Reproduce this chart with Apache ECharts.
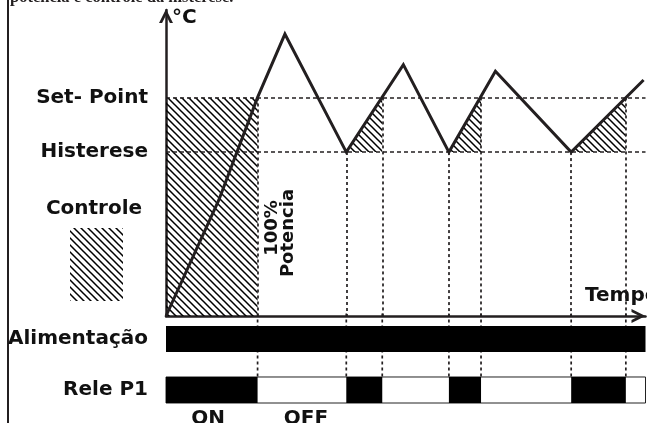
<!DOCTYPE html>
<html><head><meta charset="utf-8">
<script src="https://cdn.jsdelivr.net/npm/echarts@6/dist/echarts.min.js"></script>
<style>html,body{margin:0;padding:0;background:#fff;overflow:hidden}#c{width:647px;height:423px}</style>
</head><body><div id="c"></div>
<script>
// ---- data ----
const SET_POINT = 100;
const HISTERESE = 75;
const levelLabels = { 75: 'Histerese', 100: 'Set- Point' };
const temperatureCurve = [[0,0],[11,53],[19.1,100],[24.8,129],[37.6,75],[49.5,115],[59,75],[68.7,112],[84.5,75],[99.6,108]];
const releOn = [[0,19.1],[37.6,45.1],[59,65.7],[84.5,95.9]];
const guideLines = [[19.1,100],[37.6,75],[45.1,100],[59,75],[65.7,100],[84.5,75],[95.9,100]];
const alimentacao = [[0,100]];
const rowLabels = ['Alimentação','Rele P1'];

// ---- style ----
const INK = '#231f20';
const FONT = 'DejaVu Sans';
const FS = 20;
function makeHatch(){
  const s = 7, c = document.createElement('canvas');
  c.width = s; c.height = s;
  const g = c.getContext('2d');
  g.strokeStyle = '#000'; g.lineWidth = 1.5; g.beginPath();
  g.moveTo(-1,-1); g.lineTo(s+1,s+1);
  g.moveTo(s-1,-1); g.lineTo(s+1,1);
  g.moveTo(-1,s-1); g.lineTo(1,s+1);
  g.stroke();
  return c;
}
const hatch = { image: makeHatch(), repeat: 'repeat' };
const chevron = 'path://M0,10 L5,0 L10,10 L7.8,10 L5,4.4 L2.2,10 Z';
const labelStyle = { color: '#111', fontFamily: FONT, fontWeight: 'bold', fontSize: FS };

function txt(text, x, y, align, extra, size){
  return Object.assign({ type:'text', x:x, y:y, silent:true,
    style: { text:text, fill:'#111', fontFamily:FONT, fontWeight:'bold', fontSize:size || FS,
      textAlign:align, align:align, textVerticalAlign:'middle', verticalAlign:'middle' } }, extra || {});
}

const chart = echarts.init(document.getElementById('c'), null, { renderer: 'canvas' });
chart.setOption({
  animation: false,
  backgroundColor: '#fff',
  grid: [
    { left: 166, right: 1.5, top: 10, bottom: 107, outerBoundsMode: 'none' },
    { left: 166, right: 1.5, top: 313.5, bottom: 7.5, outerBoundsMode: 'none' }
  ],
  xAxis: [
    { gridIndex: 0, type: 'value', min: 0, max: 100,
      axisLine: { show: true, lineStyle: { color: INK, width: 2.5 }, symbol: ['none', chevron], symbolSize: [16, 14], symbolOffset: [0, -7] },
      axisTick: { show: false }, axisLabel: { show: false }, splitLine: { show: false } },
    { gridIndex: 1, type: 'value', min: 0, max: 100, show: false }
  ],
  yAxis: [
    { gridIndex: 0, type: 'value', min: 0, max: 140, interval: 25,
      axisLine: { show: true, lineStyle: { color: INK, width: 2.5 }, symbol: ['none', chevron], symbolSize: [16, 14], symbolOffset: [0, -6] },
      axisTick: { show: false }, splitLine: { show: false },
      axisLabel: Object.assign({ margin: 18, formatter: v => levelLabels[v] || '' }, labelStyle) },
    { gridIndex: 1, type: 'category', data: rowLabels, inverse: true,
      axisLine: { show: false }, axisTick: { show: false }, splitLine: { show: false },
      axisLabel: Object.assign({ margin: 18 }, labelStyle) }
  ],
  series: [
    { type: 'custom', name: 'controle', xAxisIndex: 0, yAxisIndex: 0, z: 1, silent: true,
      data: releOn.map((r, i) => [r[0], r[1], i]),
      renderItem: function (params, api) {
        const t0 = api.value(0), t1 = api.value(1), i = api.value(2);
        const pts = i === 0
          ? [[t0, 0], [t1, 0], [t1, SET_POINT], [t0, SET_POINT]]
          : [[t0, HISTERESE], [t1, HISTERESE], [t1, SET_POINT]];
        return { type: 'polygon', shape: { points: pts.map(p => api.coord(p)) }, style: { fill: hatch } };
      } },
    { type: 'line', name: 'temperatura', xAxisIndex: 0, yAxisIndex: 0, z: 5,
      data: temperatureCurve, showSymbol: false, symbol: 'none',
      lineStyle: { color: INK, width: 3, join: 'miter' },
      markLine: { silent: true, symbol: 'none', label: { show: false },
        lineStyle: { color: INK, width: 1.5, type: [4, 3] },
        data: [{ yAxis: SET_POINT }, { yAxis: HISTERESE }].concat(
          guideLines.map(g => [{ coord: [g[0], g[1]], lineStyle: { type: [3, 3], width: 1.7, color: INK } }, { coord: [g[0], 0] }])) } },
    { type: 'custom', name: 'guias', xAxisIndex: 1, yAxisIndex: 1, z: 2, silent: true,
      data: guideLines.map(g => [g[0]]),
      renderItem: function (params, api) {
        const x = api.coord([api.value(0), 1])[0];
        const band = api.size([0, 1])[1];
        const yb = api.coord([0, 1])[1] - band * 0.255;
        return { type: 'line', shape: { x1: x, y1: params.coordSys.y, x2: x, y2: yb },
          style: { stroke: INK, lineWidth: 1.7, lineDash: [3, 3] } };
      } },
    { type: 'custom', name: 'Alimentação', xAxisIndex: 1, yAxisIndex: 1, z: 3, silent: true,
      data: alimentacao.map(s => [s[0], s[1], 0]),
      renderItem: function (params, api) {
        const a = api.coord([api.value(0), api.value(2)]), b = api.coord([api.value(1), api.value(2)]);
        const h = api.size([0, 1])[1] * 0.51;
        return { type: 'rect', shape: { x: a[0], y: a[1] - h / 2, width: b[0] - a[0], height: h }, style: { fill: '#000' } };
      } },
    { type: 'custom', name: 'Rele frame', xAxisIndex: 1, yAxisIndex: 1, z: 3, silent: true,
      data: [[0, 100, 1]],
      renderItem: function (params, api) {
        const a = api.coord([api.value(0), api.value(2)]), b = api.coord([api.value(1), api.value(2)]);
        const h = api.size([0, 1])[1] * 0.51;
        return { type: 'rect', shape: { x: a[0], y: a[1] - h / 2, width: b[0] - a[0], height: h }, style: { fill: '#fff', stroke: '#222', lineWidth: 1 } };
      } },
    { type: 'custom', name: 'Rele P1', xAxisIndex: 1, yAxisIndex: 1, z: 4, silent: true,
      data: releOn.map(s => [s[0], s[1], 1]),
      renderItem: function (params, api) {
        const a = api.coord([api.value(0), api.value(2)]), b = api.coord([api.value(1), api.value(2)]);
        const h = api.size([0, 1])[1] * 0.51;
        return { type: 'rect', shape: { x: a[0], y: a[1] - h / 2, width: b[0] - a[0], height: h }, style: { fill: '#000' } };
      } }
  ],
  graphic: [
    { type: 'line', silent: true, shape: { x1: 8, y1: 0, x2: 8, y2: 423 }, style: { stroke: INK, lineWidth: 2 } },
    { type: 'text', x: 10, y: 6, silent: true, style: { text: 'potência e controle da histerese.', fill: INK, fontFamily: 'Liberation Serif', fontWeight: 'bold', fontSize: 16.5, textAlign: 'left', align: 'left', textVerticalAlign: 'bottom', verticalAlign: 'bottom' } },
    { type: 'rect', silent: true, shape: { x: 70, y: 228, width: 53, height: 73 }, style: { fill: hatch } },
    txt('Controle', 94, 209, 'center'),
    txt('°C', 172, 18, 'left'),
    txt('Tempo', 585, 296, 'left'),
    txt('ON', 208, 419, 'center'),
    txt('OFF', 306, 419, 'center'),
    txt('100%', 272, 228, 'center', { rotation: Math.PI / 2 }, 18),
    txt('Potencia', 288, 233, 'center', { rotation: Math.PI / 2 }, 18)
  ]
});
</script></body></html>
